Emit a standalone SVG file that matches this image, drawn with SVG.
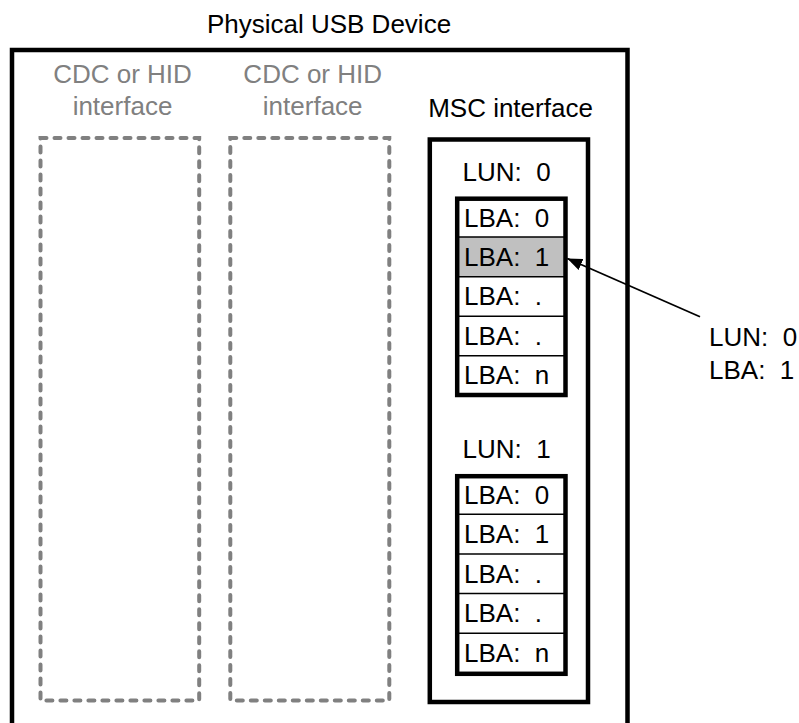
<svg xmlns="http://www.w3.org/2000/svg" width="799" height="723" viewBox="0 0 799 723" xml:space="preserve">
<style>
text{font-family:"Liberation Sans",Arial,sans-serif;font-size:26px;fill:#000;white-space:pre}
.g{fill:#808080}
.c{text-anchor:middle}
.box{fill:none;stroke:#000;stroke-width:4.5}
.dash{fill:none;stroke:#808080;stroke-width:4;stroke-dasharray:6 8;stroke-linecap:round}
.div{stroke:#000;stroke-width:1.5}
</style>
<defs>
<marker id="ah" markerUnits="userSpaceOnUse" markerWidth="16" markerHeight="12" refX="15" refY="6" orient="auto">
<path d="M0,0 L15,6 L0,12 Z" fill="#000"/>
</marker>
</defs>
<rect width="799" height="723" fill="#fff"/>
<g id="device">
<text class="c" x="329" y="33">Physical USB Device</text>
<path class="box" d="M12,730 V50 H627.5 V730"/>
</g>
<g id="cdc1">
<text class="c g" x="122.5" y="83">CDC or HID</text>
<text class="c g" x="122.5" y="115">interface</text>
<rect class="dash" x="40.5" y="138" width="158.7" height="562.5"/>
</g>
<g id="cdc2">
<text class="c g" x="312.7" y="83">CDC or HID</text>
<text class="c g" x="312.7" y="115">interface</text>
<rect class="dash" x="230.3" y="138" width="159" height="562.5"/>
</g>
<g id="msc">
<text class="c" x="510.5" y="117">MSC interface</text>
<rect class="box" x="429.8" y="139.5" width="158.2" height="562.5"/>
</g>
<g id="lun0">
<text x="462.5" y="181">LUN:  0</text>
<rect x="457.2" y="237" width="108.3" height="39.7" fill="#c0c0c0"/>
<line class="div" x1="457.2" y1="237" x2="565.5" y2="237"/>
<line class="div" x1="457.2" y1="276.7" x2="565.5" y2="276.7"/>
<line class="div" x1="457.2" y1="316.2" x2="565.5" y2="316.2"/>
<line class="div" x1="457.2" y1="355.8" x2="565.5" y2="355.8"/>
<rect class="box" x="457.2" y="198.7" width="108.3" height="196.3"/>
<text x="464" y="226.8">LBA:  0</text>
<text x="464" y="265.9">LBA:  1</text>
<text x="464" y="305.2">LBA:  .</text>
<text x="464" y="344.5">LBA:  .</text>
<text x="464" y="383.6">LBA:  n</text>
</g>
<g id="lun1">
<text x="462.5" y="458.3">LUN:  1</text>
<line class="div" x1="457.2" y1="514.3" x2="565.5" y2="514.3"/>
<line class="div" x1="457.2" y1="554" x2="565.5" y2="554"/>
<line class="div" x1="457.2" y1="593.4" x2="565.5" y2="593.4"/>
<line class="div" x1="457.2" y1="633.3" x2="565.5" y2="633.3"/>
<rect class="box" x="457.2" y="476.2" width="108.3" height="197.6"/>
<text x="464" y="504">LBA:  0</text>
<text x="464" y="543">LBA:  1</text>
<text x="464" y="582.5">LBA:  .</text>
<text x="464" y="622">LBA:  .</text>
<text x="464" y="661.5">LBA:  n</text>
</g>
<g id="label">
<text x="709" y="346">LUN:  0</text>
<text x="709" y="378.5">LBA:  1</text>
</g>
<g id="connectors">
<line x1="700" y1="316.7" x2="567.3" y2="258.5" stroke="#000" stroke-width="1.8" marker-end="url(#ah)"/>
</g>
</svg>
